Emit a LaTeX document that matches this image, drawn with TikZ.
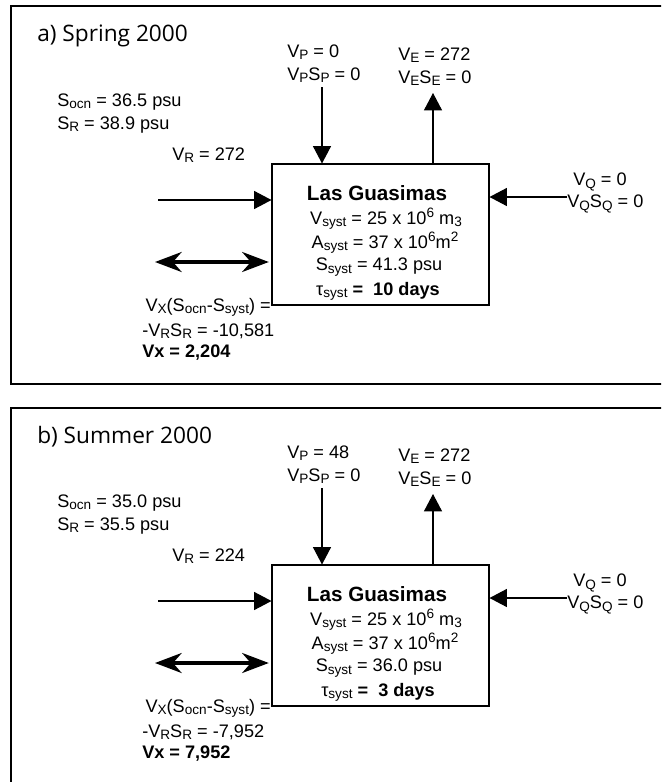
\documentclass[tikz,border=0pt]{standalone}
\usepackage{fontspec}
\setmainfont{Liberation Sans}
\newfontfamily\titlefont{Open Sans}
\usetikzlibrary{arrows.meta}

% small lowered / raised indices
\newcommand\lw[1]{\raisebox{-0.12em}{\fontsize{10.2}{10}\selectfont #1}}
\newcommand\hi[1]{\raisebox{0.38em}{\fontsize{10.2}{10}\selectfont #1}}

\tikzset{
  lbl/.style={font=\fontsize{13.6}{15}\selectfont, inner sep=0pt, anchor=west},
  boxtxt/.style={font=\fontsize{13.6}{15}\selectfont, inner sep=0pt},
  ttl/.style={font=\titlefont\fontsize{17}{19}\selectfont, inner sep=0pt, anchor=west},
  lagoon/.style={draw, line width=0.8pt, minimum width=162.75pt, minimum height=105.75pt, inner sep=0pt},
  flow/.style={draw, line width=0.8pt, -{Triangle[length=13pt, width=13.5pt]}},
  mixing/.style={draw, line width=2.4pt, {Stealth[length=20pt, width=15pt, inset=6.5pt]}-{Stealth[length=20pt, width=15pt, inset=6.5pt]}},
  frame/.style={draw, line width=1.6pt}
}

% one box model: #1 title, #2 V_P, #3 S_ocn, #4 S_R, #5 V_R,
% #6 S_syst, #7 residence time, #8 -V_R S_R, #9 V_X   (prefix in \pp)
\newcommand\lagoonpanel[9]{%
  \node[ttl] (\pp-title) at (37,36) {#1};
  \node[lbl] (\pp-vp) at (287,52) {V\lw{P} = #2};
  \node[lbl] (\pp-vpsp) at (287,75) {V\lw{P}S\lw{P} = 0};
  \node[lbl] (\pp-ve) at (398,55) {V\lw{E} = 272};
  \node[lbl] (\pp-vese) at (398,78) {V\lw{E}S\lw{E} = 0};
  \node[lbl] (\pp-socn) at (57,102) {S\lw{ocn} = #3 psu};
  \node[lbl] (\pp-sr) at (57,125) {S\lw{R} = #4 psu};
  \node[lbl] (\pp-vr) at (172,155) {V\lw{R} = #5};
  \node[lbl] (\pp-vq) at (573,182) {V\lw{Q} = 0};
  \node[lbl] (\pp-vqsq) at (567,204) {V\lw{Q}S\lw{Q} = 0};
  % the lagoon
  \node[lagoon] (\pp-box) at (380.5,234.5) {};
  \node[boxtxt, font=\bfseries\fontsize{15.5}{17}\selectfont] (\pp-name) at (377,193) {Las Guasimas};
  \node[boxtxt] (\pp-vol) at (386,219) {V\lw{syst} = 25 x 10\hi{6} m\lw{3}};
  \node[boxtxt] (\pp-area) at (385,243) {A\lw{syst} = 37 x 10\hi{6}m\hi{2}};
  \node[boxtxt] (\pp-sal) at (379,267) {S\lw{syst} = #6 psu};
  \node[boxtxt] (\pp-tau) at (378,291) {τ\lw{syst} \textbf{=\ \ #7 days}};
  % exchange budget
  \node[lbl, anchor=east] (\pp-vxs) at (271,307) {V\lw{X}(S\lw{ocn}-S\lw{syst}) =};
  \node[lbl] (\pp-vrsr) at (142,331) {-V\lw{R}S\lw{R} = #8};
  \node[lbl, font=\bfseries\fontsize{13.6}{15}\selectfont] (\pp-vx) at (142,353) {Vx = #9};
  % fluxes
  \coordinate (\pp-pin) at (322,87);
  \coordinate (\pp-eout) at (433,93);
  \coordinate (\pp-rin) at (158,200);
  \coordinate (\pp-xin) at (155,262);
  \coordinate (\pp-qin) at (567,197);
  \draw[flow] (\pp-pin) -- (\pp-pin |- \pp-box.north);
  \draw[flow] (\pp-eout |- \pp-box.north) -- (\pp-eout);
  \draw[flow] (\pp-rin) -- (\pp-rin -| \pp-box.west);
  \draw[flow] (\pp-qin) -- (\pp-qin -| \pp-box.east);
  \draw[mixing] (\pp-xin) -- ([xshift=-2pt]\pp-xin -| \pp-box.west);
}

\begin{document}
\begin{tikzpicture}[x=0.75pt, y=-0.75pt]
  \useasboundingbox (0,0) rectangle (661,782);
  \clip (0,0) rectangle (661,782);
  \fill[white] (0,0) rectangle (661,782);

  % panel frames, open on the right
  \draw[frame] (670,6) -- (11,6) -- (11,384) -- (670,384);
  \draw[frame] (670,408) -- (11,408) -- (11,790);

  \def\pp{a}
  \lagoonpanel{a) Spring 2000}{0}{36.5}{38.9}{272}{41.3}{10}{-10,581}{2,204}

  \begin{scope}[shift={(0,401)}]
    \def\pp{b}
    \lagoonpanel{b) Summer 2000}{48}{35.0}{35.5}{224}{36.0}{3}{-7,952}{7,952}
  \end{scope}
\end{tikzpicture}
\end{document}
